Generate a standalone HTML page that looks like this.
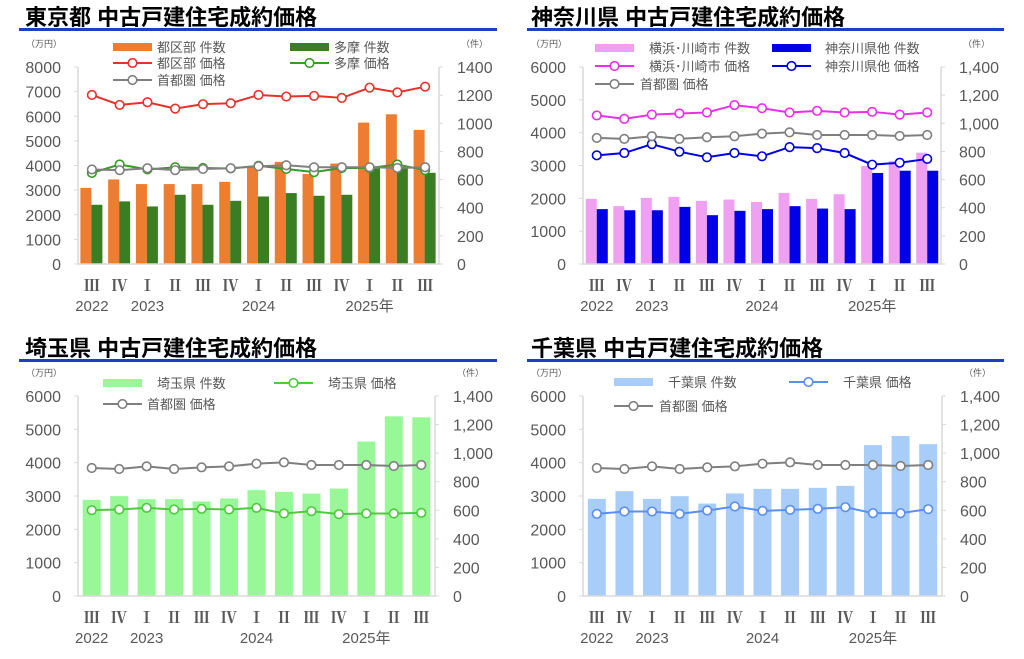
<!DOCTYPE html>
<html><head><meta charset="utf-8"><style>
html,body{margin:0;padding:0;background:#fff;}
svg{display:block;font-family:"Liberation Sans","Noto Sans CJK JP",sans-serif;}
</style></head><body>
<svg id="s" width="1024" height="659" viewBox="0 0 1024 659" xmlns="http://www.w3.org/2000/svg"></svg>
<script>
const S=document.getElementById('s');let h='';
const gray=[3840,3810,3890,3810,3860,3890,3970,4010,3930,3930,3930,3900,3930];
const roman=['Ⅲ','Ⅳ','Ⅰ','Ⅱ','Ⅲ','Ⅳ','Ⅰ','Ⅱ','Ⅲ','Ⅳ','Ⅰ','Ⅱ','Ⅲ'];
function chart(c){
 const {x0,x1,y0,y1,lmax,lstep,rfmt}=c;
 const n=13,cw=(x1-x0)/n;
 const ly=v=>y0-(y0-y1)*v/lmax, ry=v=>y0-(y0-y1)*v/1400;
 h+=`<text x="${c.tx}" y="${c.ty}" font-size="22" font-weight="bold" fill="#000">${c.title}</text>`;
 h+=`<rect x="${c.lx0}" y="${c.ly}" width="${c.lx1-c.lx0}" height="3" fill="#1f3fbf"/>`;
 h+=`<line x1="${x0}" y1="${y1}" x2="${x0}" y2="${y0}" stroke="#d9d9d9" stroke-width="1.5"/>`;
 h+=`<line x1="${x1}" y1="${y1}" x2="${x1}" y2="${y0}" stroke="#d9d9d9" stroke-width="1.5"/>`;
 for(let v=0;v<=lmax;v+=lstep){const y=ly(v);h+=`<line x1="${x0-4}" y1="${y}" x2="${x0}" y2="${y}" stroke="#d9d9d9"/>`;
  h+=`<text x="${x0-17}" y="${y+6}" font-size="16" fill="#595959" text-anchor="end">${v}</text>`;}
 for(let v=0;v<=1400;v+=200){const y=ry(v);h+=`<line x1="${x1}" y1="${y}" x2="${x1+4}" y2="${y}" stroke="#d9d9d9"/>`;
  h+=`<text x="${x1+18}" y="${y+6}" font-size="16" fill="#595959">${rfmt(v)}</text>`;}
 h+=`<text x="${x0-52}" y="${y1-20}" font-size="9" fill="#595959">（万円）</text>`;
 h+=`<text x="${x1+22}" y="${y1-20}" font-size="9" fill="#595959">（件）</text>`;
 c.bars.forEach(b=>{b.d.forEach((v,i)=>{const cx=x0+cw*(i+0.5);const x=cx+b.off;h+=`<rect x="${x}" y="${ry(v)}" width="${b.w}" height="${y0-ry(v)}" fill="${b.col}"/>`;});});
 h+=`<line x1="${x0}" y1="${y0}" x2="${x1}" y2="${y0}" stroke="#d9d9d9" stroke-width="1.5"/>`;
 c.lines.forEach(l=>{const pts=l.d.map((v,i)=>[x0+cw*(i+0.5),ly(v)]);
  h+=`<polyline points="${pts.map(p=>p.join(',')).join(' ')}" fill="none" stroke="${l.col}" stroke-width="2"/>`;
  pts.forEach(p=>h+=`<circle cx="${p[0]}" cy="${p[1]}" r="4.3" fill="#fff" stroke="${l.col}" stroke-width="1.6"/>`);});
 for(let i=0;i<n;i++){const cx=x0+cw*(i+0.5);h+=`<text x="${cx}" y="${c.xy}" font-size="16" fill="#595959" text-anchor="middle" font-family="Noto Serif CJK SC,serif" font-weight="bold">${roman[i]}</text>`;}
 [[0,'2022'],[2,'2023'],[6,'2024'],[10,'2025年']].forEach(([i,t])=>{h+=`<text x="${x0+cw*(i+0.5)}" y="${c.xy+20}" font-size="15" fill="#595959" text-anchor="middle">${t}</text>`;});
 c.leg.forEach(g=>{if(g.bar)h+=`<rect x="${g.x}" y="${g.y-4}" width="39" height="8" fill="${g.col}"/>`;
  else{h+=`<line x1="${g.x}" y1="${g.y}" x2="${g.x+39}" y2="${g.y}" stroke="${g.col}" stroke-width="2"/><circle cx="${g.x+19.5}" cy="${g.y}" r="4.3" fill="#fff" stroke="${g.col}" stroke-width="1.6"/>`;}
  h+=`<text x="${g.tx}" y="${g.y+5}" font-size="13" fill="#595959">${g.t}</text>`;});
}
const n0=v=>String(v), nc=v=>v.toLocaleString('en-US');
chart({title:'東京都 中古戸建住宅成約価格',tx:25,ty:25,lx0:19,lx1:497,ly:28,x0:78,x1:439,y0:264,y1:67,lmax:8000,lstep:1000,rfmt:n0,xy:291,
 bars:[{off:-11.5,w:11,col:'#ed7d31',d:[541,601,568,568,568,584,690,726,640,714,1005,1064,953]},
       {off:-0.5,w:11,col:'#3a7d22',d:[421,445,409,492,421,449,480,504,485,492,679,679,648]}],
 lines:[{col:'#e8312a',d:[6865,6460,6570,6310,6490,6530,6865,6800,6825,6745,7160,6970,7200]},
        {col:'#3a9a28',d:[3700,4040,3840,3930,3900,3880,3990,3860,3730,3900,3900,4040,3810]},
        {col:'#7f7f7f',d:gray}],
 leg:[{bar:1,x:113,y:47,col:'#ed7d31',tx:157,t:'都区部 件数'},{bar:1,x:290,y:47,col:'#3a7d22',tx:334,t:'多摩 件数'},
      {x:113,y:63,col:'#e8312a',tx:157,t:'都区部 価格'},{x:290,y:63,col:'#3a9a28',tx:334,t:'多摩 価格'},
      {x:113,y:80,col:'#7f7f7f',tx:157,t:'首都圏 価格'}]});
chart({title:'神奈川県 中古戸建住宅成約価格',tx:531,ty:25,lx0:527,lx1:1004,ly:28,x0:583,x1:941,y0:264,y1:67,lmax:6000,lstep:1000,rfmt:nc,xy:291,
 bars:[{off:-11,w:11,col:'#f0a0f0',d:[463,411,470,477,449,458,441,505,463,496,696,731,791]},
       {off:0,w:11,col:'#0000e6',d:[390,382,382,406,347,378,390,411,394,390,647,663,663]}],
 lines:[{col:'#e830e8',d:[4525,4420,4550,4585,4615,4840,4745,4615,4665,4615,4635,4550,4615]},
        {col:'#0000e6',d:[3310,3380,3650,3420,3250,3380,3280,3560,3530,3380,3025,3085,3200]},
        {col:'#7f7f7f',d:gray}],
 leg:[{bar:1,x:595,y:48,col:'#f0a0f0',tx:649,t:'横浜･川崎市 件数'},{bar:1,x:772,y:48,col:'#0000e6',tx:825,t:'神奈川県他 件数'},
      {x:595,y:66,col:'#e830e8',tx:649,t:'横浜･川崎市 価格'},{x:772,y:66,col:'#0000e6',tx:825,t:'神奈川県他 価格'},
      {x:595,y:84,col:'#7f7f7f',tx:640,t:'首都圏 価格'}]});
chart({title:'埼玉県 中古戸建住宅成約価格',tx:25,ty:356,lx0:19,lx1:497,ly:359,x0:78,x1:435,y0:596,y1:396,lmax:6000,lstep:1000,rfmt:nc,xy:623,
 bars:[{off:-9,w:18,col:'#98f898',d:[673,699,678,678,662,683,741,729,717,752,1081,1258,1251]}],
 lines:[{col:'#50c840',d:[2575,2595,2645,2595,2615,2595,2645,2475,2545,2455,2475,2475,2495]},
        {col:'#7f7f7f',d:gray}],
 leg:[{bar:1,x:103,y:383,col:'#98f898',tx:157,t:'埼玉県 件数'},{x:274,y:383,col:'#50c840',tx:328,t:'埼玉県 価格'},
      {x:103,y:404,col:'#7f7f7f',tx:147,t:'首都圏 価格'}]});
chart({title:'千葉県 中古戸建住宅成約価格',tx:531,ty:356,lx0:527,lx1:1004,ly:359,x0:583,x1:942,y0:596,y1:396,lmax:6000,lstep:1000,rfmt:nc,xy:623,
 bars:[{off:-9,w:18,col:'#a8cdf8',d:[680,734,680,699,647,718,750,750,757,771,1056,1120,1063]}],
 lines:[{col:'#5b8ef0',d:[2465,2535,2535,2465,2565,2685,2555,2585,2615,2665,2485,2485,2605]},
        {col:'#7f7f7f',d:gray}],
 leg:[{bar:1,x:614,y:382,col:'#a8cdf8',tx:668,t:'千葉県 件数'},{x:789,y:382,col:'#5b8ef0',tx:843,t:'千葉県 価格'},
      {x:614,y:406,col:'#7f7f7f',tx:659,t:'首都圏 価格'}]});
S.innerHTML=h;
</script>
</body></html>
